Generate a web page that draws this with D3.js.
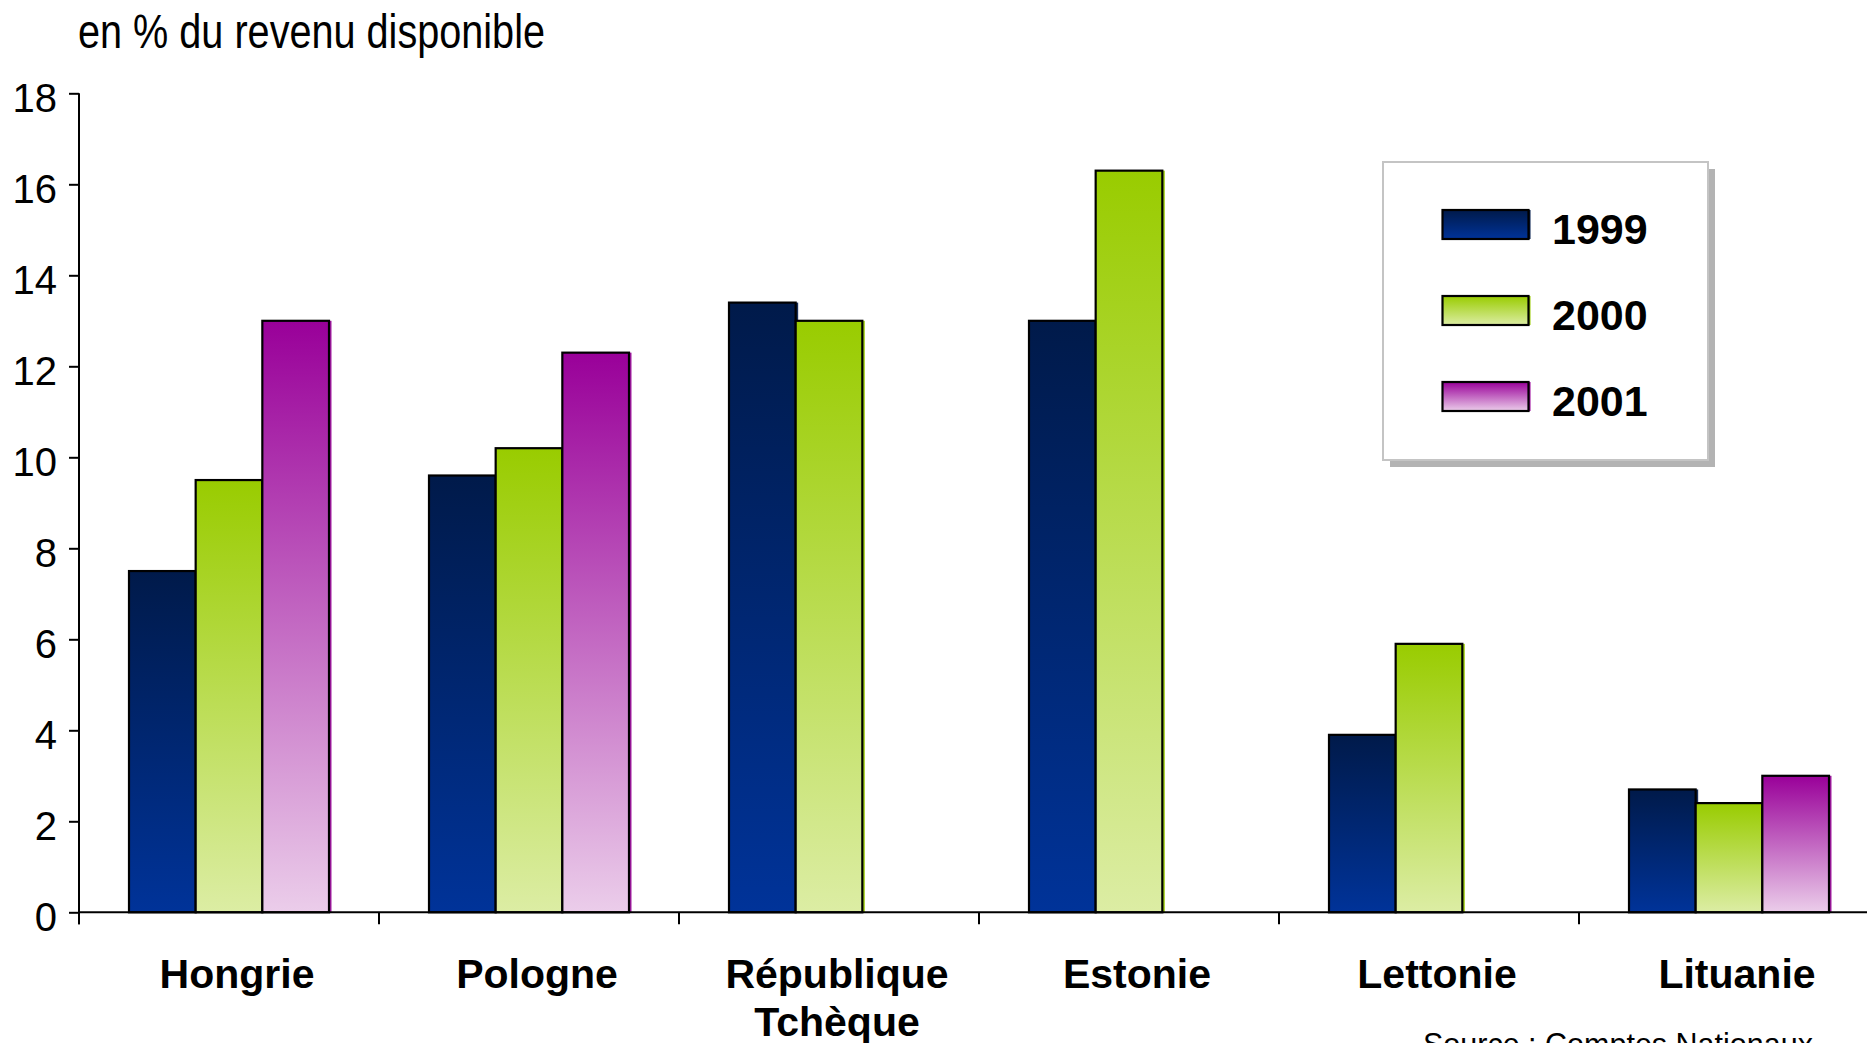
<!DOCTYPE html>
<html>
<head>
<meta charset="utf-8">
<script src="https://cdn.jsdelivr.net/npm/d3@7"></script>
<style>
html,body{margin:0;padding:0;background:#fff;overflow:hidden;}
svg{display:block;}
</style>
</head>
<body>
<svg id="chart" width="1867" height="1043"></svg>
<script>
const categories = ["Hongrie", "Pologne", "République\nTchèque", "Estonie", "Lettonie", "Lituanie"];
const series = ["1999", "2000", "2001"];
const values1999 = [7.5, 9.6, 13.4, 13.0, 3.9, 2.7];
const values2000 = [9.5, 10.2, 13.0, 16.3, 5.9, 2.4];
const values2001 = [13.0, 12.3, null, null, null, 3.0];
const yTicks = [0, 2, 4, 6, 8, 10, 12, 14, 16, 18];
const yTitle = "en % du revenu disponible";
const sourceText = "Source : Comptes Nationaux";

const seriesValues = [values1999, values2000, values2001];
const gradStops = [
  [["0%", "#001a4a"], ["100%", "#003399"]],
  [["0%", "#99cc00"], ["100%", "#dceda4"]],
  [["0%", "#990099"], ["100%", "#ebcdea"]]
];

const svg = d3.select("#chart");
const defs = svg.append("defs");
gradStops.forEach((stops, i) => {
  const g = defs.append("linearGradient").attr("id", "g" + i)
    .attr("x1", 0).attr("y1", 0).attr("x2", 0).attr("y2", 1);
  stops.forEach(s => g.append("stop").attr("offset", s[0]).attr("stop-color", s[1]));
});

const x0 = d3.scaleBand().domain(categories).range([79, 1879]).paddingInner(0).paddingOuter(0);
const x1 = d3.scaleBand().domain(series).range([x0.bandwidth() / 6, x0.bandwidth() * 5 / 6]).padding(0);
const y = d3.scaleLinear().domain([0, 18]).range([912.3, 93.3]);

// title (condensed face)
svg.append("text").attr("x", 78).attr("y", 48)
  .attr("font-family", "'Liberation Sans Narrow', 'Arial Narrow', 'Liberation Sans', sans-serif")
  .attr("font-size", 48).attr("fill", "#000")
  .attr("textLength", 467).attr("lengthAdjust", "spacingAndGlyphs")
  .text(yTitle);

// bars
const data = [];
categories.forEach((c, ci) => series.forEach((s, si) => {
  const v = seriesValues[si][ci];
  if (v != null) data.push({c, s, si, v});
}));
const gBars = svg.append("g");
gBars.selectAll("rect.shadow").data(data).join("rect").attr("class", "shadow")
  .attr("x", d => x0(d.c) + x1(d.s) + 2.5).attr("y", d => y(d.v))
  .attr("width", x1.bandwidth()).attr("height", d => y(0) - y(d.v))
  .attr("fill", d => gradStops[d.si][0][1]).attr("opacity", 0.9);
gBars.selectAll("rect.bar").data(data).join("rect").attr("class", "bar")
  .attr("x", d => x0(d.c) + x1(d.s)).attr("y", d => y(d.v))
  .attr("width", x1.bandwidth()).attr("height", d => y(0) - y(d.v))
  .attr("fill", d => "url(#g" + d.si + ")").attr("stroke", "#000").attr("stroke-width", 2.2);

// y axis
const yAxis = svg.append("g").attr("transform", "translate(79,0)")
  .call(d3.axisLeft(y).tickValues(yTicks).tickSize(10).tickPadding(12).tickFormat(d3.format("d")));
yAxis.select(".domain").attr("stroke", "#000").attr("stroke-width", 2).attr("d", `M0,${y(18)}V${y(0)+12}`);
yAxis.selectAll(".tick line").attr("stroke", "#000").attr("stroke-width", 2);
yAxis.selectAll(".tick text").attr("font-family", "'Liberation Sans', Arial, sans-serif")
  .attr("font-size", 40).attr("fill", "#000").attr("dy", "0.45em");

// x axis
const xg = svg.append("g");
xg.append("line").attr("x1", 79).attr("x2", 1879).attr("y1", y(0)).attr("y2", y(0))
  .attr("stroke", "#000").attr("stroke-width", 2);
const bounds = categories.map(c => x0(c)).concat([x0(categories[categories.length - 1]) + x0.bandwidth()]);
xg.selectAll("line.tk").data(bounds).join("line").attr("class", "tk")
  .attr("x1", d => d).attr("x2", d => d).attr("y1", y(0)).attr("y2", y(0) + 12)
  .attr("stroke", "#000").attr("stroke-width", 2);
const labels = xg.selectAll("text.cat").data(categories).join("text").attr("class", "cat")
  .attr("x", d => x0(d) + x0.bandwidth() / 2 + 8).attr("y", 987.7)
  .attr("text-anchor", "middle")
  .attr("font-family", "'Liberation Sans', Arial, sans-serif").attr("font-weight", "bold")
  .attr("font-size", 41).attr("fill", "#000");
labels.each(function(d) {
  const parts = d.split("\n");
  const t = d3.select(this);
  parts.forEach((p, i) => t.append("tspan").attr("x", x0(d) + x0.bandwidth() / 2 + 8)
    .attr("dy", i === 0 ? 0 : 48).text(p));
});

// source
svg.append("text").attr("x", 1423).attr("y", 1055)
  .attr("font-family", "'Liberation Sans', Arial, sans-serif")
  .attr("font-size", 30.5).attr("fill", "#000").text(sourceText);

// legend
const lg = svg.append("g");
lg.append("rect").attr("x", 1390).attr("y", 169).attr("width", 325).attr("height", 298).attr("fill", "#b3b3b3");
lg.append("rect").attr("x", 1383).attr("y", 162).attr("width", 325).attr("height", 298)
  .attr("fill", "#fff").attr("stroke", "#c4c4c4").attr("stroke-width", 2);
const items = lg.selectAll("g.item").data(series).join("g").attr("class", "item")
  .attr("transform", (d, i) => `translate(0,${i * 86})`);
items.append("rect").attr("x", 1444.5).attr("y", 210).attr("width", 86).attr("height", 29)
  .attr("fill", (d, i) => gradStops[i][0][1]);
items.append("rect").attr("x", 1442.5).attr("y", 210).attr("width", 86).attr("height", 29)
  .attr("fill", (d, i) => "url(#g" + i + ")").attr("stroke", "#000").attr("stroke-width", 2.2);
items.append("text").attr("x", 1552).attr("y", 244)
  .attr("font-family", "'Liberation Sans', Arial, sans-serif").attr("font-weight", "bold")
  .attr("font-size", 43).attr("fill", "#000").text(d => d);
</script>
</body>
</html>
